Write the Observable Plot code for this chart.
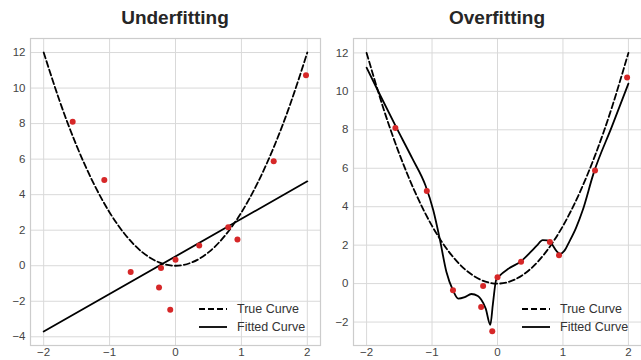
<!DOCTYPE html>
<html>
<head>
<meta charset="utf-8">
<script src="https://cdn.jsdelivr.net/npm/d3@7"></script>
<script src="https://cdn.jsdelivr.net/npm/@observablehq/plot@0.6"></script>
<style>
  html, body { margin: 0; padding: 0; background: #fff; }
  #wrap { position: relative; width: 641px; height: 360px; overflow: hidden; font-family: "Liberation Sans", Arial, sans-serif; }
  .panel { position: absolute; top: 0; }
  .title { position: absolute; top: 7px; font-weight: bold; font-size: 19px; color: #262626; text-align: center; }
  .legend { position: absolute; font-size: 12.5px; color: #333; }
  .legend div { height: 18px; display: flex; align-items: center; }
  .legend svg { margin-right: 10px; }
</style>
</head>
<body>
<div id="wrap"></div>
<script>
// ---- data ----
const xTicks = [-2, -1, 0, 1, 2];
const yTicksUnder = [-4, -2, 0, 2, 4, 6, 8, 10, 12];
const yTicksOver = [-2, 0, 2, 4, 6, 8, 10, 12];

const trueX = [-2, -1.75, -1.5, -1.25, -1, -0.75, -0.5, -0.25, 0, 0.25, 0.5, 0.75, 1, 1.25, 1.5, 1.75, 2];
const trueY = [12, 9.19, 6.75, 4.69, 3, 1.69, 0.75, 0.19, 0, 0.19, 0.75, 1.69, 3, 4.69, 6.75, 9.19, 12];

const sampleX = [-1.56, -1.08, -0.68, -0.25, -0.22, -0.08, 0.0, 0.36, 0.80, 0.94, 1.49, 1.98];
const sampleY = [8.1, 4.82, -0.35, -1.22, -0.13, -2.48, 0.33, 1.14, 2.17, 1.48, 5.88, 10.72];

const underFitX = [-2, 2];
const underFitY = [-3.7, 4.75];

const overFitX = [-2, -1.8, -1.55, -1.3, -1.1, -0.98, -0.88, -0.78, -0.68, -0.6, -0.5, -0.4, -0.3, -0.25, -0.18, -0.11, -0.07, -0.02, 0.03, 0.17, 0.36, 0.5, 0.6, 0.69, 0.76, 0.82, 0.9, 0.96, 1.02, 1.1, 1.2, 1.3, 1.47, 1.75, 2.0];
const overFitY = [11.23, 9.85, 8.15, 6.5, 5.1, 3.8, 2.29, 0.6, -0.35, -0.78, -0.7, -0.54, -0.65, -0.83, -1.3, -2.14, -1.05, 0.2, 0.4, 0.78, 1.16, 1.62, 1.97, 2.26, 2.25, 2.1, 1.7, 1.55, 1.7, 2.2, 2.9, 3.8, 5.76, 8.19, 10.4];

const titles = ["Underfitting", "Overfitting"];
const legendLabels = ["True Curve", "Fitted Curve"];

// ---- build ----
const zip = (xs, ys) => xs.map((x, i) => ({x, y: ys[i]}));
const trueData = zip(trueX, trueY);
const samples = zip(sampleX, sampleY);
const fmt = d => d < 0 ? "\u2212" + Math.abs(d) : String(d);
const gridColor = "#d9d9d9";

function panel(fitData, yDomain, yTicks, marginLeft, width) {
  return Plot.plot({
    width, height: 360,
    marginLeft, marginRight: 0, marginTop: 38, marginBottom: 15,
    style: {fontFamily: '"Liberation Sans", Arial, sans-serif', fontSize: "11.5px", color: "#444", background: "transparent", overflow: "visible"},
    x: {domain: [-2.2, 2.2], ticks: xTicks, tickSize: 0, tickPadding: 2, tickFormat: fmt, label: null},
    y: {domain: yDomain, ticks: yTicks, tickSize: 0, tickPadding: 5, tickFormat: fmt, label: null},
    marks: [
      Plot.ruleX(xTicks, {stroke: gridColor, strokeWidth: 1}),
      Plot.ruleY(yTicks, {stroke: gridColor, strokeWidth: 1}),
      Plot.frame({stroke: "#cccccc", strokeWidth: 1.2}),
      Plot.line(trueData, {x: "x", y: "y", curve: "natural", stroke: "black", strokeWidth: 1.8, strokeDasharray: "6,3"}),
      Plot.line(fitData, {x: "x", y: "y", curve: "monotone-x", stroke: "black", strokeWidth: 1.8}),
      Plot.dot(samples, {x: "x", y: "y", r: 3, fill: "#d62728", stroke: "none"})
    ]
  });
}

const wrap = document.getElementById("wrap");
const configs = [
  {left: 0, width: 320, ml: 30, fit: zip(underFitX, underFitY), dom: [-4.49, 12.79], ticks: yTicksUnder, legX: 199},
  {left: 320, width: 321, ml: 33, fit: zip(overFitX, overFitY), dom: [-3.22, 12.75], ticks: yTicksOver, legX: 522}
];
configs.forEach((c, i) => {
  const p = panel(c.fit, c.dom, c.ticks, c.ml, c.width);
  p.classList.add("panel");
  p.style.left = c.left + "px";
  wrap.appendChild(p);
  const t = document.createElement("div");
  t.className = "title";
  t.textContent = titles[i];
  t.style.left = (c.left + c.ml) + "px";
  t.style.width = (c.width - c.ml) + "px";
  wrap.appendChild(t);
  const lg = document.createElement("div");
  lg.className = "legend";
  lg.style.left = c.legX + "px";
  lg.style.top = "300px";
  legendLabels.forEach((lab, j) => {
    const row = document.createElement("div");
    row.innerHTML = `<svg width="28" height="4"><line x1="0" x2="28" y1="2" y2="2" stroke="black" stroke-width="1.8" ${j === 0 ? 'stroke-dasharray="6,3"' : ''}/></svg><span>${lab}</span>`;
    lg.appendChild(row);
  });
  wrap.appendChild(lg);
});
</script>
</body>
</html>
